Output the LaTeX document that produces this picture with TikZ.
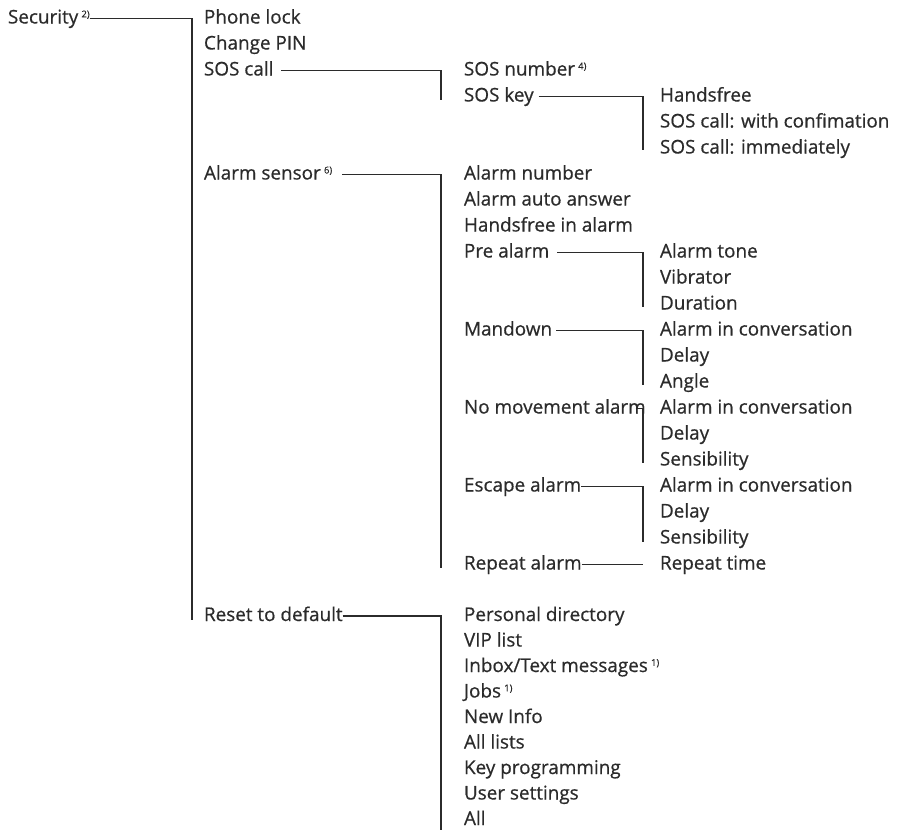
\documentclass[tikz,border=0pt]{standalone}
\usepackage{fontspec}
\setmainfont{Open Sans}[FakeBold=0.6]
\definecolor{ink}{HTML}{2B2B2B}
\newcommand\fnote[1]{\,\raisebox{0.6ex}{\fontsize{9.5}{9.5}\selectfont #1}}
\begin{document}
\begin{tikzpicture}[x=1pt,y=-1pt,
 lbl/.style={anchor=base west,inner xsep=0pt,inner ysep=0pt,outer sep=0pt,text height=14pt,text depth=4pt,font=\fontsize{18.9}{19}\selectfont,text=ink},
 conn/.style={draw=ink,line width=1.3pt}]
\useasboundingbox (0,0) rectangle (898,830);
% column A
\node[lbl] (sec) at (8,23.5) {Security\fnote{2)}};
% column B
\node[lbl] (plock) at (204,23.5) {Phone lock};
\node[lbl] (cpin) at (204,49.5) {Change PIN};
\node[lbl] (sos) at (204,75.5) {SOS call};
\node[lbl] (asens) at (204,179.5) {Alarm sensor\fnote{6)}};
\node[lbl] (reset) at (204,621) {Reset to default};
% column C
\node[lbl] (sosnum) at (464,75.5) {SOS number\fnote{4)}};
\node[lbl] (soskey) at (464,101.5) {SOS key};
\node[lbl] (anum) at (464,179.5) {Alarm number};
\node[lbl] (aauto) at (464,205.5) {Alarm auto answer};
\node[lbl] (hfa) at (464,231.5) {Handsfree in alarm};
\node[lbl] (pre) at (464,257.5) {Pre alarm};
\node[lbl] (mand) at (464,335.5) {Mandown};
\node[lbl] (nomov) at (464,413.5) {No movement alarm};
\node[lbl] (esc) at (464,491.5) {Escape alarm};
\node[lbl] (rep) at (464,569.5) {Repeat alarm};
\node[lbl] (pdir) at (464,621) {Personal directory};
\node[lbl] (vip) at (464,646.5) {VIP list};
\node[lbl] (inbox) at (464,672) {Inbox/Text messages\fnote{1)}};
\node[lbl] (jobs) at (464,697.5) {Jobs\fnote{1)}};
\node[lbl] (ninfo) at (464,723) {New Info};
\node[lbl] (alists) at (464,748.5) {All lists};
\node[lbl] (keyp) at (464,774) {Key programming};
\node[lbl] (uset) at (464,799.5) {User settings};
\node[lbl,text depth=0.5pt] (all) at (464,825) {All};
% column D
\node[lbl] (hf) at (660,101.5) {Handsfree};
\node[lbl] (wconf) at (660,127.5) {SOS call: with confimation};
\node[lbl] (immed) at (660,153.5) {SOS call: immediately};
\node[lbl] (atone) at (660,257.5) {Alarm tone};
\node[lbl] (vib) at (660,283.5) {Vibrator};
\node[lbl] (dur) at (660,309.5) {Duration};
\node[lbl] (aic1) at (660,335.5) {Alarm in conversation};
\node[lbl] (del1) at (660,361.5) {Delay};
\node[lbl] (angle) at (660,387.5) {Angle};
\node[lbl] (aic2) at (660,413.5) {Alarm in conversation};
\node[lbl] (del2) at (660,439.5) {Delay};
\node[lbl] (sens1) at (660,465.5) {Sensibility};
\node[lbl] (aic3) at (660,491.5) {Alarm in conversation};
\node[lbl] (del3) at (660,517.5) {Delay};
\node[lbl] (sens2) at (660,543.5) {Sensibility};
\node[lbl] (rtime) at (660,569.5) {Repeat time};
% bracket ends
\coordinate (bSec) at (192,619.5);
\coordinate (bSos) at (441,99.5);
\coordinate (bAs) at (441,567.5);
\coordinate (bRes) at (441,830);
\coordinate (bKey) at (643,150);
\coordinate (bPre) at (643,307);
\coordinate (bMan) at (643,385);
\coordinate (bNom) at (643,462.5);
\coordinate (bEsc) at (643,541.5);
\coordinate (bRep) at (643,564.5);
% connectors
\draw[conn] (sec.east) -| (bSec);
\draw[conn] ([xshift=8pt]sos.east) -| (bSos);
\draw[conn] ([xshift=10pt]asens.east) -| (bAs);
\draw[conn] (reset.east) -| (bRes);
\draw[conn] ([xshift=5pt]soskey.east) -| (bKey);
\draw[conn] ([xshift=8pt]pre.east) -| (bPre);
\draw[conn] ([xshift=4pt]mand.east) -| (bMan);
\draw[conn] ([xshift=-10pt]nomov.east) -| (bNom);
\draw[conn] (esc.east) -| (bEsc);
\draw[conn] (rep.east) -- (bRep);
\end{tikzpicture}
\end{document}
